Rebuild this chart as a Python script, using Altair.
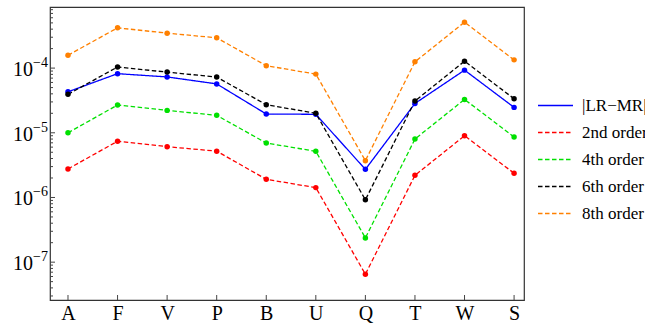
import altair as alt
import pandas as pd

categories = ["A", "F", "V", "P", "B", "U", "Q", "T", "W", "S"]
series_names = ["|LR−MR|", "2nd order", "4th order", "6th order", "8th order"]
series_colors = ["#0000ff", "#ff0000", "#00e000", "#000000", "#ff8000"]
series_dashes = [[1, 0], [4.5, 2.5], [4.5, 2.5], [4.5, 2.5], [4.5, 2.5]]

lr_mr = [4.3e-5, 8.2e-5, 7.3e-5, 5.7e-5, 1.95e-5, 1.93e-5, 2.72e-6, 2.84e-5, 9.3e-5, 2.47e-5]
order2 = [2.76e-6, 7.4e-6, 6.1e-6, 5.2e-6, 1.91e-6, 1.42e-6, 6.5e-8, 2.2e-6, 9.0e-6, 2.37e-6]
order4 = [1.0e-5, 2.69e-5, 2.22e-5, 1.86e-5, 6.95e-6, 5.17e-6, 2.37e-7, 8.0e-6, 3.28e-5, 8.6e-6]
order6 = [3.93e-5, 1.04e-4, 8.67e-5, 7.26e-5, 2.72e-5, 2.0e-5, 9.2e-7, 3.1e-5, 1.28e-4, 3.36e-5]
order8 = [1.58e-4, 4.19e-4, 3.47e-4, 2.94e-4, 1.09e-4, 8.07e-5, 3.71e-6, 1.25e-4, 5.13e-4, 1.34e-4]

y_decades = [-4, -5, -6, -7]
y_domain = [2.6e-8, 8.8e-4]
x_domain = [-0.363, 9.2]

W, H = 474, 293
FONT = "Liberation Serif"

rows = []
for name, vals in zip(series_names, [lr_mr, order2, order4, order6, order8]):
    for i, (c, v) in enumerate(zip(categories, vals)):
        rows.append({"series": name, "idx": i, "cat": c, "value": v})
df = pd.DataFrame(rows)

# tick tables
major = []
minor = []
for e in range(-8, -2):
    for k in range(1, 10):
        v = k * 10.0 ** e
        if y_domain[0] <= v <= y_domain[1]:
            (major if k == 1 else minor).append({"v": v})
major_df = pd.DataFrame(major)
minor_df = pd.DataFrame(minor)
xt_df = pd.DataFrame({"idx": list(range(len(categories)))})
lab_df = pd.DataFrame({"v": [10.0 ** e for e in y_decades],
                       "base": ["10"] * len(y_decades),
                       "exp": ["−" + str(-e) for e in y_decades]})

label_expr = "[" + ",".join("'%s'" % c for c in categories) + "][datum.value]"

xscale = alt.Scale(domain=x_domain, nice=False, zero=False)
yscale = alt.Scale(type="log", domain=y_domain, nice=False)

x_enc = alt.X("idx:Q", scale=xscale,
              axis=alt.Axis(values=list(range(len(categories))), labelExpr=label_expr,
                            title=None, grid=False, domain=False, ticks=False,
                            labelFont=FONT, labelFontSize=20, labelColor="#000",
                            labelPadding=3))
y_enc = alt.Y("value:Q", scale=yscale, axis=None)

legend = alt.Legend(title=None, orient="none", legendX=487, legendY=80, padding=0,
                    symbolType="stroke", symbolSize=1225, symbolStrokeWidth=1.4,
                    labelFont=FONT, labelFontSize=17, labelColor="#000", labelOffset=8,
                    rowPadding=-8, labelLimit=200)

color = alt.Color("series:N", scale=alt.Scale(domain=series_names, range=series_colors),
                  legend=legend)
dash = alt.StrokeDash("series:N", scale=alt.Scale(domain=series_names, range=series_dashes),
                      legend=legend)

lines = alt.Chart(df).mark_line(strokeWidth=1.3).encode(
    x=x_enc, y=y_enc, color=color, strokeDash=dash, detail="series:N",
    order="idx:Q")
points = alt.Chart(df).mark_circle(size=30, opacity=1).encode(
    x=alt.X("idx:Q", scale=xscale), y=alt.Y("value:Q", scale=yscale),
    color=alt.Color("series:N", scale=alt.Scale(domain=series_names, range=series_colors),
                    legend=None))

ymaj = alt.Chart(major_df).mark_rule(color="#444", strokeWidth=1).encode(
    y=alt.Y("v:Q", scale=yscale), x=alt.value(0), x2=alt.value(5))
ymin = alt.Chart(minor_df).mark_rule(color="#444", strokeWidth=1).encode(
    y=alt.Y("v:Q", scale=yscale), x=alt.value(0), x2=alt.value(3))
xt = alt.Chart(xt_df).mark_rule(color="#444", strokeWidth=1).encode(
    x=alt.X("idx:Q", scale=xscale), y=alt.value(H), y2=alt.value(H - 5))

base_txt = alt.Chart(lab_df).mark_text(align="right", baseline="middle", font=FONT,
                                       fontSize=20, dy=2, color="#000").encode(
    y=alt.Y("v:Q", scale=yscale), x=alt.value(-17), text="base:N")
exp_txt = alt.Chart(lab_df).mark_text(align="left", baseline="middle", font=FONT,
                                      fontSize=14, dy=-5, color="#000").encode(
    y=alt.Y("v:Q", scale=yscale), x=alt.value(-17), text="exp:N")

chart = alt.layer(lines, points, ymaj, ymin, xt, base_txt, exp_txt).properties(
    width=W, height=H,
    padding={"left": 50, "top": 7, "right": 121, "bottom": 27},
    autosize=alt.AutoSizeParams(type="none"),
    background="white",
).configure_view(
    stroke="#333", strokeWidth=1.2
)

chart.save("out.html", embed_options={"renderer": "svg", "actions": False})
